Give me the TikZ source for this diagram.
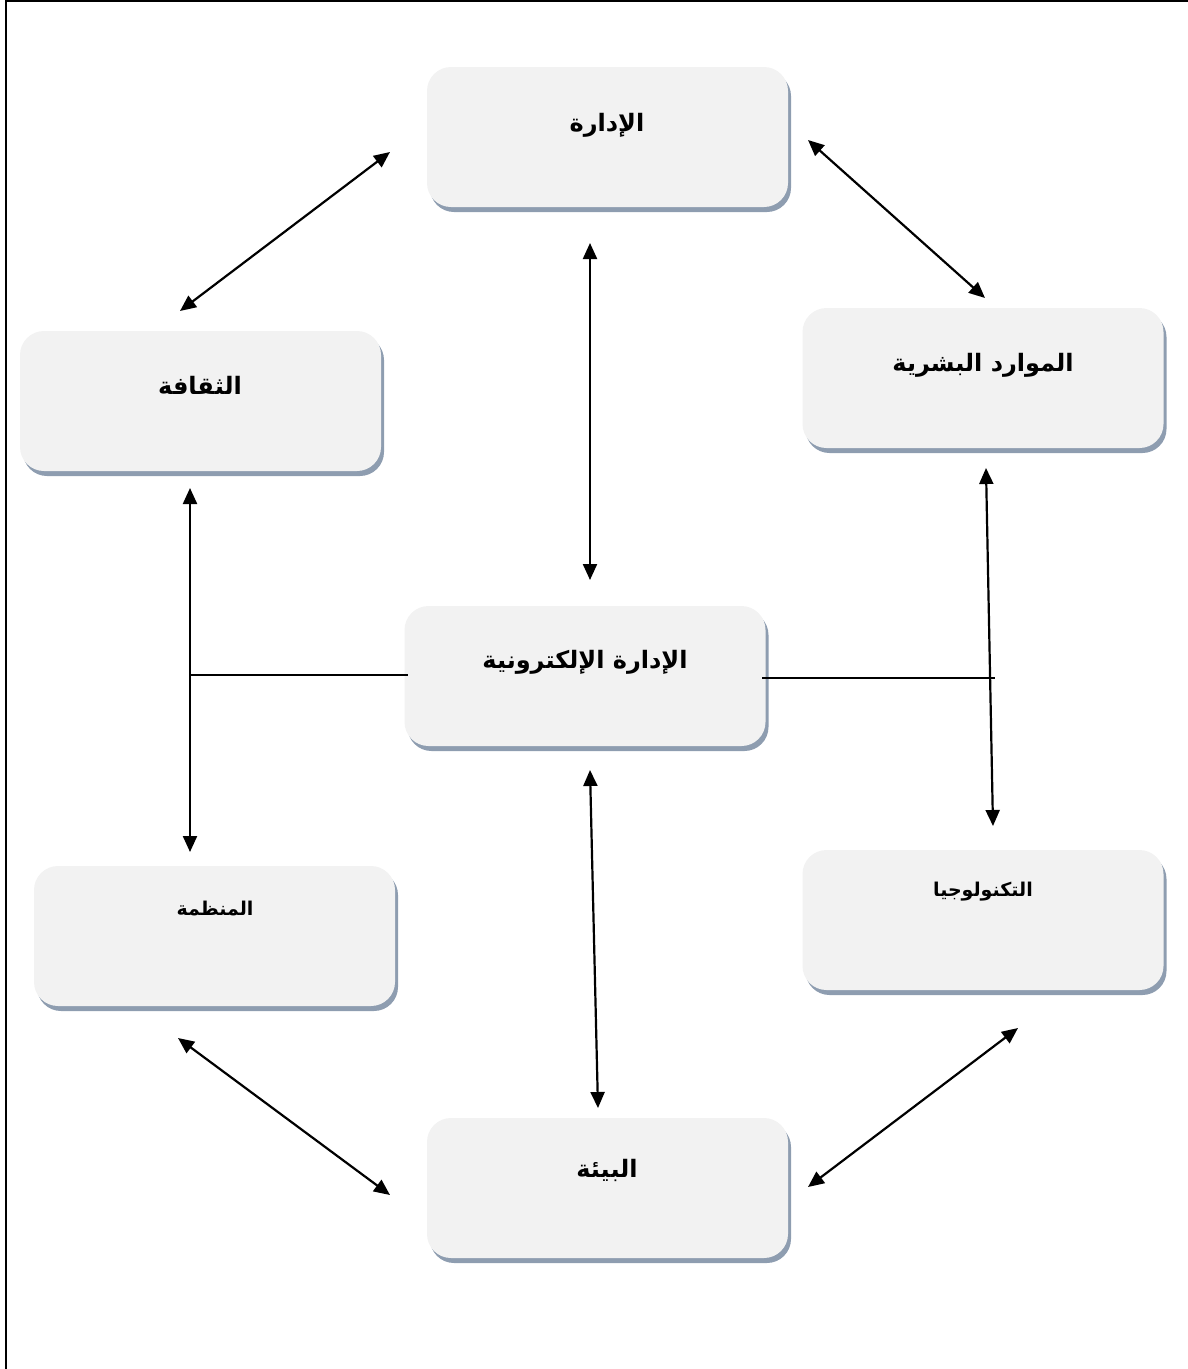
\documentclass[tikz,border=0pt]{standalone}
\usepackage{fontspec}
\newfontfamily\arabicfont[Script=Arabic]{DejaVu Sans}
\TeXXeTstate=1
\usetikzlibrary{arrows.meta,shadows}
\definecolor{boxfill}{HTML}{F2F2F2}
\definecolor{shadowc}{HTML}{8E9DB0}
\tikzset{
  boxnode/.style={rectangle, rounded corners=24pt, fill=boxfill, minimum width=361pt, minimum height=140pt, inner sep=0pt,
    drop shadow={shadow xshift=3pt, shadow yshift=-5pt, fill=shadowc, opacity=1}},
  bigtxt/.style={font=\arabicfont\bfseries\fontsize{24}{28}\selectfont, inner sep=0pt},
  smalltxt/.style={font=\arabicfont\bfseries\fontsize{19}{22}\selectfont, inner sep=0pt},
  biarrow/.style={line width=2.2pt, {Triangle[length=16pt,width=14pt]}-{Triangle[length=16pt,width=14pt]}},
  plainline/.style={line width=2.2pt},
  framel/.style={line width=2.5pt}
}
\begin{document}
\begin{tikzpicture}[x=1pt,y=-1pt]
\useasboundingbox (0,0) rectangle (1188,1369);
% frame (left and top edges)
\coordinate (f1) at (6,1369);
\coordinate (f2) at (6,1);
\coordinate (f3) at (1188,1);
\draw[framel] (f1) -- (f2) -- (f3);

% boxes
\node[boxnode] (idara) at (607.5,137) {};
\node[boxnode] (mawarid) at (983,378) {};
\node[boxnode] (thaqafa) at (200.5,401) {};
\node[boxnode] (eidara) at (585,676) {};
\node[boxnode] (munazzama) at (214.5,936) {};
\node[boxnode] (tech) at (983,920) {};
\node[boxnode] (bia) at (607.5,1188) {};

% labels
\node[bigtxt] (tidara) at (607,125) {\beginR الإدارة\endR};
\node[bigtxt] (tmawarid) at (983,365) {\beginR الموارد البشرية\endR};
\node[bigtxt] (tthaqafa) at (200,385) {\beginR الثقافة\endR};
\node[bigtxt] (teidara) at (585,662) {\beginR الإدارة الإلكترونية\endR};
\node[smalltxt] (tmunazzama) at (215,908) {\beginR المنظمة\endR};
\node[smalltxt] (ttech) at (983,892) {\beginR التكنولوجيا\endR};
\node[bigtxt] (tbia) at (607,1170) {\beginR البيئة\endR};

% arrow end points
\coordinate (a1s) at (390,152);  \coordinate (a1e) at (180,311);
\coordinate (a2s) at (808,140);  \coordinate (a2e) at (985,298);
\coordinate (a3s) at (590,243);  \coordinate (a3e) at (590,580);
\coordinate (a4s) at (190,488);  \coordinate (a4e) at (190,852);
\coordinate (a6s) at (986,468);  \coordinate (a6e) at (993,826);
\coordinate (a8s) at (590,770);  \coordinate (a8e) at (598,1108);
\coordinate (a9s) at (178,1038); \coordinate (a9e) at (390,1195);
\coordinate (a10s) at (1018,1028); \coordinate (a10e) at (808,1187);
\coordinate (j1) at (190,675);
\coordinate (j2) at (995,678);
\coordinate (l1e) at (408,675);
\coordinate (l2s) at (762,678);

\draw[biarrow] (a1s) -- (a1e);
\draw[biarrow] (a2s) -- (a2e);
\draw[biarrow] (a3s) -- (a3e);
\draw[biarrow] (a4s) -- (a4e);
\draw[biarrow] (a6s) -- (a6e);
\draw[biarrow] (a8s) -- (a8e);
\draw[biarrow] (a9s) -- (a9e);
\draw[biarrow] (a10s) -- (a10e);
\draw[plainline] (j1) -- (l1e);
\draw[plainline] (l2s) -- (j2);
\end{tikzpicture}
\end{document}
